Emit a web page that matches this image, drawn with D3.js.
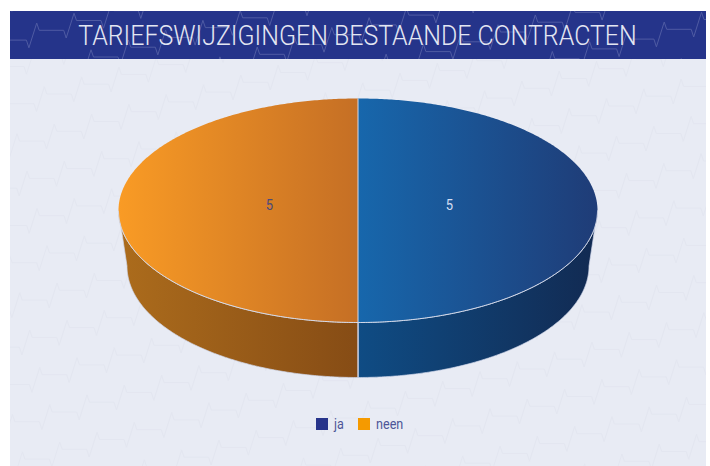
<!DOCTYPE html>
<html lang='en'>

<head>
    <meta charset='UTF-8'>
    <title>Tariefswijzigingen bestaande contracten</title>
    <script src='https://cdn.jsdelivr.net/npm/d3@7'></script>
    <style>
        html, body {
            margin: 0;
            background: #fff;
        }

        svg {
            display: block;
        }

        text {
            font-family: Roboto, 'Liberation Sans', sans-serif;
        }
    </style>
</head>

<body>
    <script>
        const title = 'TARIEFSWIJZIGINGEN BESTAANDE CONTRACTEN';
        const categories = ['ja', 'neen'];
        const values = [5, 5];
        const legendColors = ['#27348b', '#f59a00'];
        const labelColors = ['#d3def2', '#4b4a7c'];
        const topStops = [['#1767ac', '#1f3c77'], ['#f99b25', '#c56f25']];
        const wallStops = [['#0f4c84', '#122a52'], ['#ac6c1c', '#864c15']];

        const width = 710, height = 466;
        const panel = { x: 10, y: 11, w: 696, h: 455 };
        const bannerH = 48;
        const narrow = 0.84;   // no condensed face installed, so squeeze the text

        // pie placement: top face, and a slightly narrower base for the perspective
        const top3d = { cx: 358, cy: 210.5, rx: 239.5, ry: 112 };
        const base3d = { cx: 358, cy: 266, rx: 231, ry: 111.5 };

        const svg = d3.select('body').append('svg')
            .attr('width', width)
            .attr('height', height);

        const defs = svg.append('defs');

        defs.append('clipPath').attr('id', 'clip-banner').append('rect')
            .attr('x', panel.x).attr('y', panel.y).attr('width', panel.w).attr('height', bannerH);
        defs.append('clipPath').attr('id', 'clip-body').append('rect')
            .attr('x', panel.x).attr('y', panel.y + bannerH).attr('width', panel.w).attr('height', panel.h - bannerH);

        function addGradient(id, stops, x1, x2) {
            const g = defs.append('linearGradient').attr('id', id)
                .attr('gradientUnits', 'userSpaceOnUse')
                .attr('x1', x1).attr('x2', x2).attr('y1', 0).attr('y2', 0);
            g.append('stop').attr('offset', 0).attr('stop-color', stops[0]);
            g.append('stop').attr('offset', 1).attr('stop-color', stops[1]);
        }

        /**
         * Background: heartbeat line repeated on a skewed lattice
         */
        function heartbeats(clip, stroke, origin, a, b) {
            const g = svg.append('g').attr('clip-path', `url(#${clip})`)
                .attr('fill', 'none').attr('stroke', stroke).attr('stroke-width', 1);
            for (let i = -30; i <= 30; i++) {
                for (let j = -12; j <= 24; j++) {
                    const px = origin[0] + i * a[0] + j * b[0];
                    const py = origin[1] + i * a[1] + j * b[1];
                    if (px < -40 || px > width + 40 || py < -20 || py > height + 40) continue;
                    g.append('path')
                        .attr('transform', `translate(${px},${py})`)
                        .attr('d', 'M0,0L2.5,7.3L27,7.3L29.5,15L37.3,-9.7');
                }
            }
        }

        svg.append('rect').attr('x', panel.x).attr('y', panel.y)
            .attr('width', panel.w).attr('height', panel.h).attr('fill', '#e8ebf4');
        heartbeats('clip-body', '#e3e6f0', [44.3, 86.7], [37.3, -9.8], [10, 37.3]);

        svg.append('rect').attr('x', panel.x).attr('y', panel.y)
            .attr('width', panel.w).attr('height', bannerH).attr('fill', '#25348a');
        heartbeats('clip-banner', '#4f5ba3', [36.7, 23], [37.3, -9.8], [17, 36.5]);

        svg.append('text')
            .attr('transform', 'translate(357.5,45) scale(0.875,1)')
            .attr('text-anchor', 'middle')
            .attr('font-size', 28.5)
            .attr('font-weight', 300)
            .attr('fill', '#e3e6f2')
            .text(title);

        /**
         * Pie
         */
        const pie = d3.pie().sort(null);
        const arcs = pie(values);

        // angle 0 is straight up, clockwise, same as d3.arc
        const angleX = d3.scaleLinear().domain([-1, 1]);
        const angleY = d3.scaleLinear().domain([-1, 1]);
        const onEllipse = (e, t) => [
            angleX.range([e.cx - e.rx, e.cx + e.rx])(Math.sin(t)),
            angleY.range([e.cy + e.ry, e.cy - e.ry])(Math.cos(t))
        ];

        const line = d3.line();

        function wallPath(d) {
            // only the front half of the rim can be seen
            const from = Math.max(d.startAngle, Math.PI / 2);
            const to = Math.min(d.endAngle, 3 * Math.PI / 2);
            if (to <= from) return null;
            const ts = d3.range(from, to, 0.01).concat(to);
            const pts = ts.map(t => onEllipse(top3d, t))
                .concat(ts.slice().reverse().map(t => onEllipse(base3d, t)));
            return line(pts) + 'Z';
        }

        function facePath(d) {
            const ts = d3.range(d.startAngle, d.endAngle, 0.01).concat(d.endAngle);
            return line([[top3d.cx, top3d.cy]].concat(ts.map(t => onEllipse(top3d, t)))) + 'Z';
        }

        arcs.forEach((d, i) => {
            const half = i === 0 ? [top3d.cx, top3d.cx + top3d.rx] : [top3d.cx - top3d.rx, top3d.cx];
            addGradient(`top-${i}`, topStops[i], half[0], half[1]);
            addGradient(`wall-${i}`, wallStops[i], half[0], half[1]);
        });

        // side wall first; the outer edge gets a soft pale rim
        svg.selectAll('.wall')
            .data(arcs)
            .enter().append('path')
            .attr('class', 'wall')
            .attr('d', wallPath)
            .attr('fill', (d, i) => `url(#wall-${i})`)
            .attr('stroke', '#cfd6ea')
            .attr('stroke-width', 0.7);

        svg.selectAll('.face')
            .data(arcs)
            .enter().append('path')
            .attr('class', 'face')
            .attr('d', facePath)
            .attr('fill', (d, i) => `url(#top-${i})`);

        // pale seams: front half of the rim and the centre cut
        svg.append('path')
            .attr('d', line(d3.range(Math.PI / 2, 3 * Math.PI / 2, 0.01).map(t => onEllipse(top3d, t))))
            .attr('fill', 'none').attr('stroke', '#d6dbea').attr('stroke-width', 1);
        svg.append('path')
            .attr('d', line([onEllipse(top3d, 0), onEllipse(base3d, Math.PI)]))
            .attr('fill', 'none').attr('stroke', '#d6dbea').attr('stroke-width', 1);

        svg.selectAll('.value')
            .data(arcs)
            .enter().append('text')
            .attr('class', 'value')
            .attr('transform', (d, i) => `translate(${i === 0 ? 449.5 : 269.5},210) scale(${narrow},1)`)
            .attr('text-anchor', 'middle')
            .attr('font-size', 15.5)
            .attr('fill', (d, i) => labelColors[i])
            .text(d => d.value);

        /**
         * Legend
         */
        const legendX = d3.scaleOrdinal().domain(categories).range([316, 358]);
        const legend = svg.selectAll('.legend')
            .data(categories)
            .enter().append('g')
            .attr('class', 'legend')
            .attr('transform', d => `translate(${legendX(d)},418)`);

        legend.append('rect')
            .attr('width', 12).attr('height', 12)
            .attr('fill', (d, i) => legendColors[i]);

        legend.append('text')
            .attr('transform', `translate(18,11) scale(${narrow},1)`)
            .attr('font-size', 15)
            .attr('fill', '#4d5698')
            .text(d => d);
    </script>
</body>

</html>
